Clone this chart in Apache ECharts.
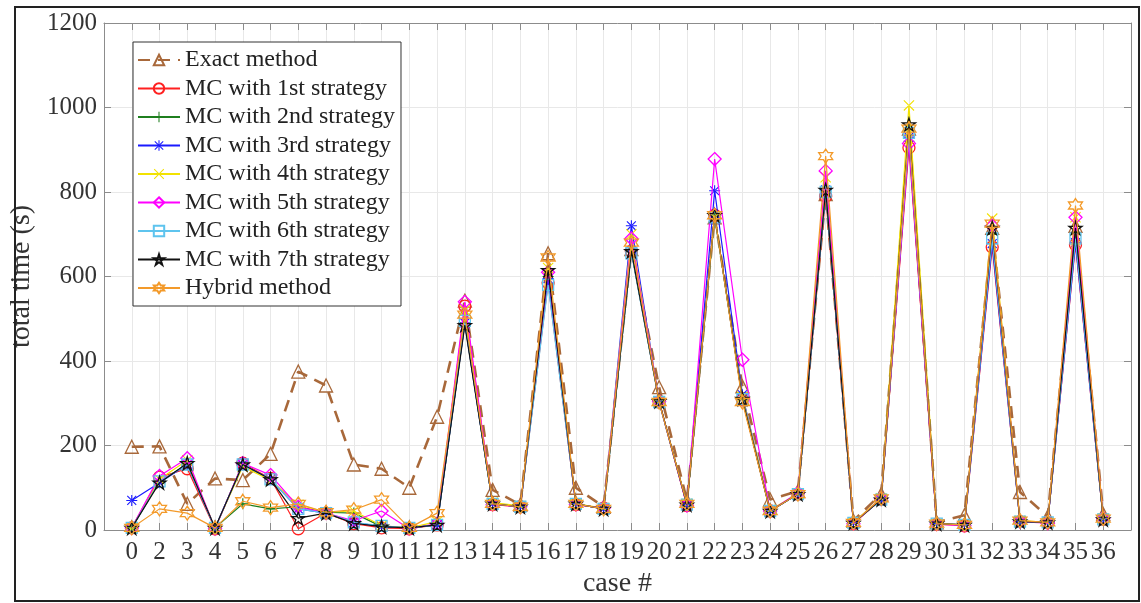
<!DOCTYPE html>
<html>
<head>
<meta charset="utf-8">
<script src="https://cdn.jsdelivr.net/npm/echarts@6/dist/echarts.min.js"></script>
<style>
html,body{margin:0;padding:0;background:#fff;}
#chart{width:1141px;height:603px;}
</style>
</head>
<body>
<div id="chart"></div>
<script>
// ---- data ----
const caseLabels = ['0','2','3','4','5','6','7','8','9','10','11','12','13','14','15','16','17','18','19','20','21','22','23','24','25','26','27','28','29','30','31','32','33','34','35','36'];
const exactMethod = [197,198,62,122,118,180,375,342,155,145,100,268,543,95,60,655,100,55,665,338,70,740,340,72,92,795,22,85,950,18,35,715,90,32,720,38];
const mc1 = [5,125,145,3,158,122,3,40,15,5,3,12,530,60,55,585,60,52,660,303,58,745,308,45,85,790,15,72,905,14,10,670,20,18,675,25];
const mc2 = [5,115,155,5,62,50,55,42,40,8,5,12,490,62,55,600,62,50,660,305,60,745,310,45,85,800,17,72,920,15,12,700,20,18,700,25];
const mc3 = [70,112,155,5,155,120,50,40,18,8,5,12,490,62,55,595,62,50,720,303,60,803,320,45,85,805,17,72,930,15,12,678,20,18,680,25];
const mc4 = [5,120,165,5,150,118,60,42,45,10,5,20,520,65,57,620,62,52,700,305,62,740,315,48,85,835,18,75,1005,15,12,737,22,18,740,27];
const mc5 = [5,128,170,3,158,130,55,40,22,45,3,15,540,60,55,610,60,52,690,305,58,878,403,45,88,850,15,75,915,14,10,720,20,16,740,28];
const mc6 = [5,115,155,5,155,120,50,40,18,10,5,12,495,62,55,580,62,50,655,303,60,740,310,45,85,800,17,72,940,15,12,690,20,18,690,25];
const mc7 = [5,112,158,5,155,120,28,40,16,8,5,12,485,62,55,615,62,50,660,305,60,745,310,45,85,805,17,72,960,15,12,715,20,18,715,25];
const hybrid = [5,50,40,5,68,53,62,42,48,72,5,40,510,62,55,645,62,50,680,303,62,745,303,45,85,885,17,75,950,15,12,725,22,18,768,27];
const seriesNames = ['Exact method','MC with 1st strategy','MC with 2nd strategy','MC with 3rd strategy','MC with 4th strategy','MC with 5th strategy','MC with 6th strategy','MC with 7th strategy','Hybrid method'];
const yTicks = [0,200,400,600,800,1000,1200];

// ---- symbols ----
const SYM_PLUS = 'path://M4.5,0h1v10h-1z M0,4.5h10v1h-10z';
const SYM_X = 'path://M0,0.7L0.7,0L10,9.3L9.3,10Z M10,0.7L9.3,0L0,9.3L0.7,10Z';
const SYM_AST = 'path://M4.5,0h1v10h-1z M0,4.5h10v1h-10z M0.6,1.3L1.3,0.6L9.4,8.7L8.7,9.4Z M9.4,1.3L8.7,0.6L0.6,8.7L1.3,9.4Z';
const SYM_STAR = 'path://M50,0L61.17,34.63L97.55,34.55L68.07,55.87L79.39,90.45L50,69L20.61,90.45L31.93,55.87L2.45,34.55L38.83,34.63Z';
const SYM_HEX = 'path://M50,0L64.43,25L93.3,25L78.87,50L93.3,75L64.43,75L50,100L35.57,75L6.7,75L21.13,50L6.7,25L35.57,25Z';

const FONT = '"Liberation Serif", "DejaVu Serif", serif';
const allData = [exactMethod, mc1, mc2, mc3, mc4, mc5, mc6, mc7, hybrid];
const colors = ['#a8683a','#ff2020','#1f7f1f','#1a1aff','#f2e200','#ff00ff','#5ec4ee','#111111','#f39a2a'];
const symbols = ['triangle','circle',SYM_PLUS,SYM_AST,SYM_X,'diamond','rect',SYM_STAR,SYM_HEX];
const hollow = [true,true,false,false,false,true,true,true,true];
const sizes = [13,12,11,11,11,13,11,13,14];

const series = allData.map((arr, k) => ({
  name: seriesNames[k],
  type: 'line',
  xAxisIndex: 0, yAxisIndex: 0,
  data: arr.map((v, i) => [i, v]),
  symbol: symbols[k],
  symbolSize: sizes[k],
  showSymbol: true,
  lineStyle: k === 0 ? {color: colors[k], width: 2.6, type: [12, 8]} : {color: colors[k], width: 1.2},
  itemStyle: hollow[k] ? {color: 'rgba(255,255,255,0)', borderColor: colors[k], borderWidth: 1.3}
                       : {color: colors[k], borderWidth: 0},
  emphasis: {disabled: true},
  z: 2 + k
}));

const chart = echarts.init(document.getElementById('chart'), null, {renderer: 'canvas'});
const axisGray = '#8c8c8c';
chart.setOption({
  animation: false,
  backgroundColor: '#fff',
  grid: {left: 104, right: 10, top: 23, bottom: 67.5, containLabel: false},
  legend: {
    orient: 'vertical', left: 133, top: 42,
    backgroundColor: '#fff', borderColor: '#333', borderWidth: 1,
    padding: [6, 6, 6, 4], itemWidth: 42, itemHeight: 13, itemGap: 4.5,
    textStyle: {fontFamily: FONT, fontSize: 24, color: '#222', lineHeight: 24},
    data: seriesNames
  },
  xAxis: [{
    type: 'value', min: -1, max: 36, interval: 1,
    name: 'case #', nameLocation: 'middle', nameGap: 40,
    nameTextStyle: {fontFamily: FONT, fontSize: 28, color: '#333'},
    axisLine: {show: true, onZero: false, lineStyle: {color: axisGray, width: 1}},
    axisTick: {show: true, inside: true, length: 7, lineStyle: {color: axisGray}},
    axisLabel: {fontFamily: FONT, fontSize: 25, color: '#333', margin: 10,
      formatter: v => (v >= 0 && v < caseLabels.length) ? caseLabels[v] : ''},
    splitLine: {show: true, lineStyle: {color: '#e8e8e8', width: 1}}
  }, {
    type: 'value', min: -1, max: 36, interval: 1, position: 'top',
    axisLine: {show: true, onZero: false, lineStyle: {color: axisGray, width: 1}},
    axisTick: {show: true, inside: true, length: 7, lineStyle: {color: axisGray}},
    axisLabel: {show: false}, splitLine: {show: false}
  }],
  yAxis: [{
    type: 'value', min: yTicks[0], max: yTicks[yTicks.length - 1], interval: 200,
    name: 'total time (s)', nameLocation: 'middle', nameGap: 44,
    nameTextStyle: {fontFamily: FONT, fontSize: 28, color: '#333'},
    axisLine: {show: true, onZero: false, lineStyle: {color: axisGray, width: 1}},
    axisTick: {show: true, inside: true, length: 7, lineStyle: {color: axisGray}},
    axisLabel: {fontFamily: FONT, fontSize: 25, color: '#333', margin: 7, formatter: v => String(v)},
    splitLine: {show: true, lineStyle: {color: '#e8e8e8', width: 1}}
  }, {
    type: 'value', min: yTicks[0], max: yTicks[yTicks.length - 1], interval: 200, position: 'right',
    axisLine: {show: true, onZero: false, lineStyle: {color: axisGray, width: 1}},
    axisTick: {show: true, inside: true, length: 7, lineStyle: {color: axisGray}},
    axisLabel: {show: false}, splitLine: {show: false}
  }],
  graphic: [{
    type: 'rect', silent: true, z: 100,
    shape: {x: 15, y: 7, width: 1124, height: 594},
    style: {fill: 'none', stroke: '#222', lineWidth: 2}
  }],
  series: series
});
</script>
</body>
</html>
